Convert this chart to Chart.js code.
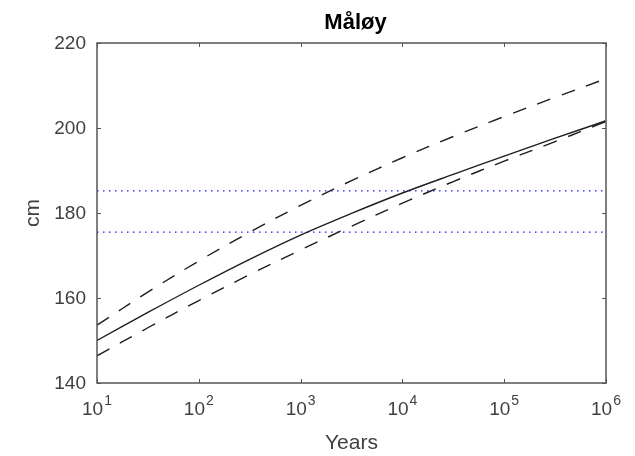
<!DOCTYPE html>
<html><head><meta charset="utf-8">
<script src="https://cdn.jsdelivr.net/npm/chart.js@4"></script>
<style>html,body{margin:0;padding:0;background:#fff}#wrap{width:635px;height:456px}</style>
</head><body><div id="wrap"><canvas id="c" width="635" height="456"></canvas></div>
<script>
// Data
const years   = [10, 31.6, 100, 316, 1000, 3162, 10000, 31623, 100000, 316228, 1000000];
const central = [150.0, 156.6, 163.0, 169.1, 174.8, 179.9, 184.7, 189.1, 193.4, 197.6, 201.7];
const upper   = [153.6, 161.4, 168.7, 175.5, 181.8, 187.6, 193.0, 198.0, 202.7, 207.2, 211.6];
const lower   = [146.4, 153.0, 159.4, 165.5, 171.3, 176.9, 182.3, 187.4, 192.2, 196.8, 201.5];
const thresholdHigh = 185.2;
const thresholdLow  = 175.5;
const yTicks = [140, 160, 180, 200, 220];
const xTickExponents = [1, 2, 3, 4, 5, 6];
const titleText = 'Måløy';
const xLabel = 'Years';
const yLabel = 'cm';

const FONT = '"Liberation Sans", Arial, Helvetica, sans-serif';
const pts = arr => years.map((x, i) => ({x: x, y: arr[i]}));
const hline = v => [{x: years[0], y: v}, {x: years[years.length - 1], y: v}];

const curveStyle = {borderColor: '#1e1e1e', borderWidth: 1.4, pointRadius: 0, tension: 0.35, fill: false};
const dotStyle = {borderColor: '#1a1aff', borderWidth: 1.3, pointRadius: 0, borderDash: [1.5, 4.5], fill: false};

const decor = {
  id: 'decor',
  afterDraw(chart) {
    const ctx = chart.ctx, a = chart.chartArea;
    const xs = chart.scales.x, ys = chart.scales.y;
    ctx.save();
    // box
    ctx.strokeStyle = '#555';
    ctx.lineWidth = 1.5;
    ctx.strokeRect(a.left, a.top, a.right - a.left, a.bottom - a.top);
    // ticks
    ctx.lineWidth = 1;
    ctx.beginPath();
    xTickExponents.forEach(e => {
      const px = Math.round(xs.getPixelForValue(Math.pow(10, e))) + 0.5;
      ctx.moveTo(px, a.bottom); ctx.lineTo(px, a.bottom - 4);
      ctx.moveTo(px, a.top); ctx.lineTo(px, a.top + 4);
    });
    yTicks.forEach(v => {
      const py = Math.round(ys.getPixelForValue(v)) + 0.5;
      ctx.moveTo(a.left, py); ctx.lineTo(a.left + 4, py);
      ctx.moveTo(a.right, py); ctx.lineTo(a.right - 4, py);
    });
    ctx.stroke();
    // y tick labels
    ctx.fillStyle = '#404040';
    ctx.font = '19px ' + FONT;
    ctx.textAlign = 'right';
    ctx.textBaseline = 'middle';
    yTicks.forEach(v => ctx.fillText(String(v), a.left - 11, ys.getPixelForValue(v) + 1));
    // x tick labels 10^n
    ctx.textBaseline = 'alphabetic';
    xTickExponents.forEach(e => {
      const px = xs.getPixelForValue(Math.pow(10, e));
      ctx.font = '19px ' + FONT;
      const wBase = ctx.measureText('10').width;
      ctx.font = '14px ' + FONT;
      const wExp = ctx.measureText(String(e)).width;
      const left = px - (wBase + wExp + 1) / 2;
      ctx.textAlign = 'left';
      ctx.font = '19px ' + FONT;
      ctx.fillText('10', left, a.bottom + 32);
      ctx.font = '14px ' + FONT;
      ctx.fillText(String(e), left + wBase + 1, a.bottom + 22);
    });
    // axis labels
    ctx.textAlign = 'center';
    ctx.textBaseline = 'middle';
    ctx.font = '21px ' + FONT;
    ctx.fillText(xLabel, (a.left + a.right) / 2, 443);
    ctx.save();
    ctx.translate(33, (a.top + a.bottom) / 2);
    ctx.rotate(-Math.PI / 2);
    ctx.fillText(yLabel, 0, 0);
    ctx.restore();
    // title
    ctx.fillStyle = '#000';
    ctx.font = 'bold 22px ' + FONT;
    ctx.fillText(titleText, (a.left + a.right) / 2 + 4, 23);
    ctx.restore();
  }
};

new Chart(document.getElementById('c'), {
  type: 'line',
  data: {
    datasets: [
      Object.assign({label: 'central', data: pts(central)}, curveStyle),
      Object.assign({label: 'upper', data: pts(upper), borderDash: [14, 12]}, curveStyle),
      Object.assign({label: 'lower', data: pts(lower), borderDash: [14, 12]}, curveStyle),
      Object.assign({label: 'high', data: hline(thresholdHigh)}, dotStyle),
      Object.assign({label: 'low', data: hline(thresholdLow)}, dotStyle)
    ]
  },
  options: {
    responsive: false,
    animation: false,
    layout: {padding: {top: 43, right: 29, left: 0, bottom: 0}},
    plugins: {legend: {display: false}, tooltip: {enabled: false}, title: {display: false}},
    scales: {
      x: {type: 'logarithmic', min: 10, max: 1000000,
          grid: {display: false}, border: {display: false}, ticks: {display: false},
          afterFit(s) { s.height = 73; }},
      y: {type: 'linear', min: 140, max: 220,
          grid: {display: false}, border: {display: false}, ticks: {display: false, stepSize: 20},
          afterFit(s) { s.width = 97; }}
    }
  },
  plugins: [decor]
});
</script>
</body></html>
